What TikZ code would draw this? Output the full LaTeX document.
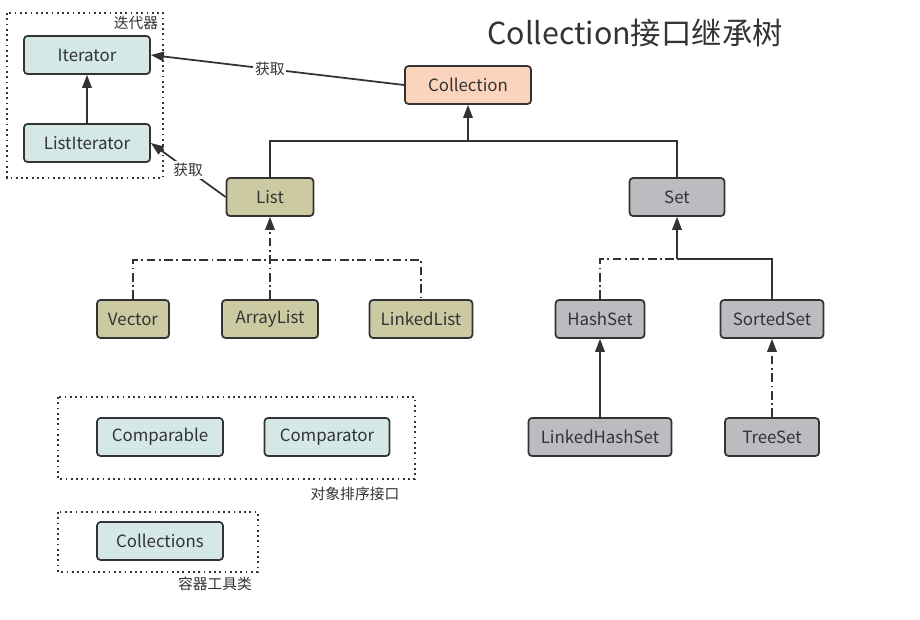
\documentclass[tikz,border=0pt]{standalone}
\usepackage{fontspec}
\setmainfont{Noto Sans CJK SC}
\usetikzlibrary{arrows.meta}
\definecolor{itercol}{HTML}{D4E8E8}
\definecolor{collcol}{HTML}{FAD4BD}
\definecolor{listcol}{HTML}{CBCAA3}
\definecolor{setcol}{HTML}{BBBCC0}
\definecolor{inkcol}{HTML}{333333}
\tikzset{
  box/.style={draw=inkcol, rounded corners=2pt, line width=1pt, minimum height=0.76cm, inner sep=0pt, text=inkcol, font=\fontsize{9.6}{11}\selectfont},
  link/.style={draw=inkcol, line width=1pt},
  arr/.style={-{Triangle[length=2.6mm,width=1.9mm]}},
  dashdot/.style={dash pattern=on 5pt off 2pt on 1pt off 2pt},
  group/.style={draw=inkcol, line width=1pt, dotted},
  lbl/.style={fill=white, inner sep=1pt, text=inkcol, font=\fontsize{8.4}{10}\selectfont}
}
\begin{document}
\begin{tikzpicture}[x=0.02cm,y=-0.02cm]
\useasboundingbox (0,0) rectangle (920,619);
\node[text=inkcol, font=\LARGE] at (635,33) (title) {Collection接口继承树};

\draw[group] (7,13) rectangle (163,178);
\node[lbl, fill=none] at (136,23) (itergrp) {迭代器};
\draw[group] (58,397) rectangle (415,479);
\node[lbl] at (355,494) (cmpgrp) {对象排序接口};
\draw[group] (58,512) rectangle (258,572);
\node[lbl] at (215,584) (utilgrp) {容器工具类};

\node[box, fill=itercol, minimum width=2.52cm] at (87,55) (iter) {Iterator};
\node[box, fill=itercol, minimum width=2.52cm] at (87,143) (listiter) {ListIterator};
\node[box, fill=collcol, minimum width=2.52cm] at (468,85) (coll) {Collection};
\node[box, fill=listcol, minimum width=1.74cm] at (270,197) (list) {List};
\node[box, fill=setcol, minimum width=1.9cm] at (677,197) (set) {Set};
\node[box, fill=listcol, minimum width=1.44cm] at (133,319) (vector) {Vector};
\node[box, fill=listcol, minimum width=1.92cm] at (270,319) (arraylist) {ArrayList};
\node[box, fill=listcol, minimum width=2.06cm] at (421,319) (linkedlist) {LinkedList};
\node[box, fill=setcol, minimum width=1.78cm] at (600,319) (hashset) {HashSet};
\node[box, fill=setcol, minimum width=2.06cm] at (772,319) (sortedset) {SortedSet};
\node[box, fill=setcol, minimum width=2.86cm] at (600,437) (linkedhashset) {LinkedHashSet};
\node[box, fill=setcol, minimum width=1.88cm] at (772,437) (treeset) {TreeSet};
\node[box, fill=itercol, minimum width=2.52cm] at (160,437) (comparable) {Comparable};
\node[box, fill=itercol, minimum width=2.5cm] at (327,437) (comparator) {Comparator};
\node[box, fill=itercol, minimum width=2.52cm] at (160,541) (collections) {Collections};

\coordinate (colljoin) at (468,141);
\coordinate (listjoin) at (270,260);
\coordinate (setjoin) at (677,259);

\draw[link, arr] (listiter) -- (iter);
\draw[link, arr] (coll.west) -- node[lbl, pos=0.53] {获取} (iter.east);
\draw[link, arr] (list.west) -- node[lbl, pos=0.5] {获取} (listiter.east);

\draw[link] (list.north) |- (colljoin) -| (set.north);
\draw[link, arr] (colljoin) -- (coll.south);

\draw[link, dashdot] (vector.north) |- (listjoin) -| (linkedlist.north);
\draw[link, dashdot, arr] (arraylist.north) -- (list.south);

\draw[link, dashdot] (hashset.north) |- (setjoin);
\draw[link] (setjoin) -| (sortedset.north);
\draw[link, arr] (setjoin) -- (set.south);

\draw[link, arr] (linkedhashset) -- (hashset);
\draw[link, dashdot, arr] (treeset) -- (sortedset);
\end{tikzpicture}
\end{document}
